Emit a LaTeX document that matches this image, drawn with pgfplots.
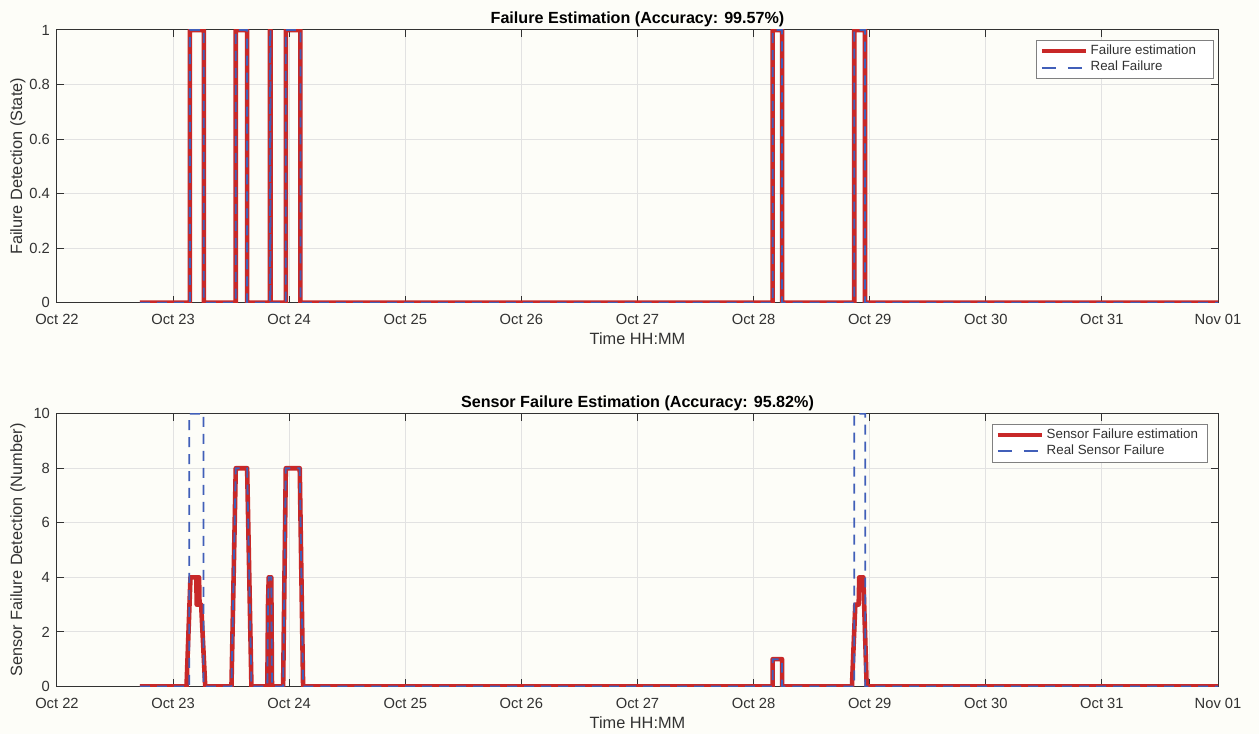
\documentclass[border=0pt]{standalone}
\usepackage{pgfplots}
\pgfplotsset{compat=1.18}
\usepackage{fontspec}
\setmainfont{Liberation Sans}
\definecolor{redline}{RGB}{200,40,40}
\definecolor{blueline}{RGB}{65,95,185}
\definecolor{bg}{RGB}{253,253,248}
\definecolor{axgray}{RGB}{50,50,50}
\definecolor{gridgray}{RGB}{226,226,226}
\pgfplotsset{
 mystyle/.style={
  scale only axis, width=581bp, height=136.5bp,
  xmin=0, xmax=10, xtick={0,...,10},
  xticklabels={Oct 22,Oct 23,Oct 24,Oct 25,Oct 26,Oct 27,Oct 28,Oct 29,Oct 30,Oct 31,Nov 01},
  tick align=inside, major tick length=3.5bp,
  grid=major, major grid style={gridgray, line width=0.5bp},
  axis line style={axgray, line width=0.5bp},
  tick style={axgray, line width=0.5bp},
  ticklabel style={font=\fontsize{7.4}{9}\selectfont, text=axgray},
  xticklabel style={anchor=center, yshift=-8.5bp},
  label style={font=\fontsize{8.2}{10}\selectfont, text=axgray},
  xlabel={Time HH:MM},
  xlabel style={at={(axis description cs:0.5,-0.132)}, anchor=center},
  ylabel style={at={(axis description cs:-0.0336,0.5)}, anchor=center},
  title style={font=\bfseries\fontsize{8.1}{10}\selectfont, at={(axis description cs:0.5,1.045)}, anchor=center, yshift=-7bp},
  /pgf/number format/assume math mode=true,
  legend style={at={(rel axis cs:1,1)}, anchor=north east, yshift=-5bp,
     draw=gray, line width=0.5bp, fill=white, font=\fontsize{6.7}{8}\selectfont, text=axgray,
     row sep=-0.5bp, inner xsep=1.5bp, inner ysep=1bp,
     nodes={inner xsep=1.3bp, inner ysep=1.2bp}},
  legend cell align=left,
  legend image code/.code={\draw[##1] (0bp,0bp) -- (22bp,0bp);},
  redl/.style={redline, line width=2.3bp, line join=round},
  bluel/.style={blueline, line width=0.9bp, dash pattern=on 5bp off 3.5bp,
     legend image post style={dash pattern=on 7bp off 6bp, line width=1bp}},
 }
}
\begin{document}
\begin{tikzpicture}
\path[use as bounding box, fill=bg] (-28.5bp,-24bp) rectangle (601.5bp,343.5bp);
% top axis
\begin{axis}[mystyle, at={(0,192bp)}, anchor=south west,
  ymin=0, ymax=1, ytick={0,0.2,...,1},
  yticklabels={0,0.2,0.4,0.6,0.8,1},
  ylabel={Failure Detection (State)},
  title={Failure Estimation (Accuracy: 99.57\%)},
  legend style={xshift=-2bp}]
\addplot[redl] coordinates {(0.714,0)(1.145,0)(1.145,1)(1.265,1)(1.265,0)(1.540,0)(1.540,1)(1.638,1)(1.638,0)(1.834,0)(1.835,1)(1.839,1)(1.840,0)(1.971,0)(1.971,1)(2.097,1)(2.097,0)(6.164,0)(6.164,1)(6.245,1)(6.245,0)(6.867,0)(6.867,1)(6.959,1)(6.959,0)(10,0)};
\addlegendentry{Failure estimation\hspace*{6bp}}
\addplot[bluel] coordinates {(0.714,0)(1.145,0)(1.145,1)(1.265,1)(1.265,0)(1.540,0)(1.540,1)(1.638,1)(1.638,0)(1.834,0)(1.835,1)(1.839,1)(1.840,0)(1.971,0)(1.971,1)(2.097,1)(2.097,0)(6.164,0)(6.164,1)(6.245,1)(6.245,0)(6.867,0)(6.867,1)(6.959,1)(6.959,0)(10,0)};
\addlegendentry{Real Failure}
\node[font=\fontsize{7.4}{9}\selectfont, text=axgray, anchor=center] at (axis description cs:0.969,-0.132) {2019};
\end{axis}
% bottom axis
\begin{axis}[mystyle, at={(0,0)}, anchor=south west,
  ymin=0, ymax=10, ytick={0,2,...,10},
  ylabel={Sensor Failure Detection (Number)},
  title={Sensor Failure Estimation (Accuracy: 95.82\%)},
  legend style={xshift=-5bp}]
\addplot[redl] coordinates {(0.714,0)(1.116,0)(1.150,4)(1.200,4)(1.204,3)(1.208,4)(1.212,3)(1.216,4)(1.220,3)(1.224,4)(1.228,3)(1.242,3)(1.277,0)(1.503,0)(1.540,8)(1.638,8)(1.675,0)(1.812,0)(1.818,3)(1.824,4)(1.846,4)(1.852,0)(1.948,0)(1.971,8)(2.091,8)(2.120,0)(6.164,0)(6.164,1)(6.245,1)(6.245,0)(6.847,0)(6.876,3)(6.905,3)(6.910,4)(6.945,4)(6.974,0)(10,0)};
\addlegendentry{Sensor Failure estimation\hspace*{2bp}}
\addplot[bluel] coordinates {(0.714,0)(1.139,0)(1.139,10)(1.262,10)(1.262,0)(1.503,0)(1.540,8)(1.638,8)(1.675,0)(1.812,0)(1.818,3)(1.824,4)(1.846,4)(1.852,0)(1.948,0)(1.971,8)(2.091,8)(2.120,0)(6.164,0)(6.164,1)(6.245,1)(6.245,0)(6.867,0)(6.867,10)(6.962,10)(6.962,0)(10,0)};
\addlegendentry{Real Sensor Failure}
\node[font=\fontsize{7.4}{9}\selectfont, text=axgray, anchor=center] at (axis description cs:0.969,-0.132) {2019};
\end{axis}
\end{tikzpicture}
\end{document}
